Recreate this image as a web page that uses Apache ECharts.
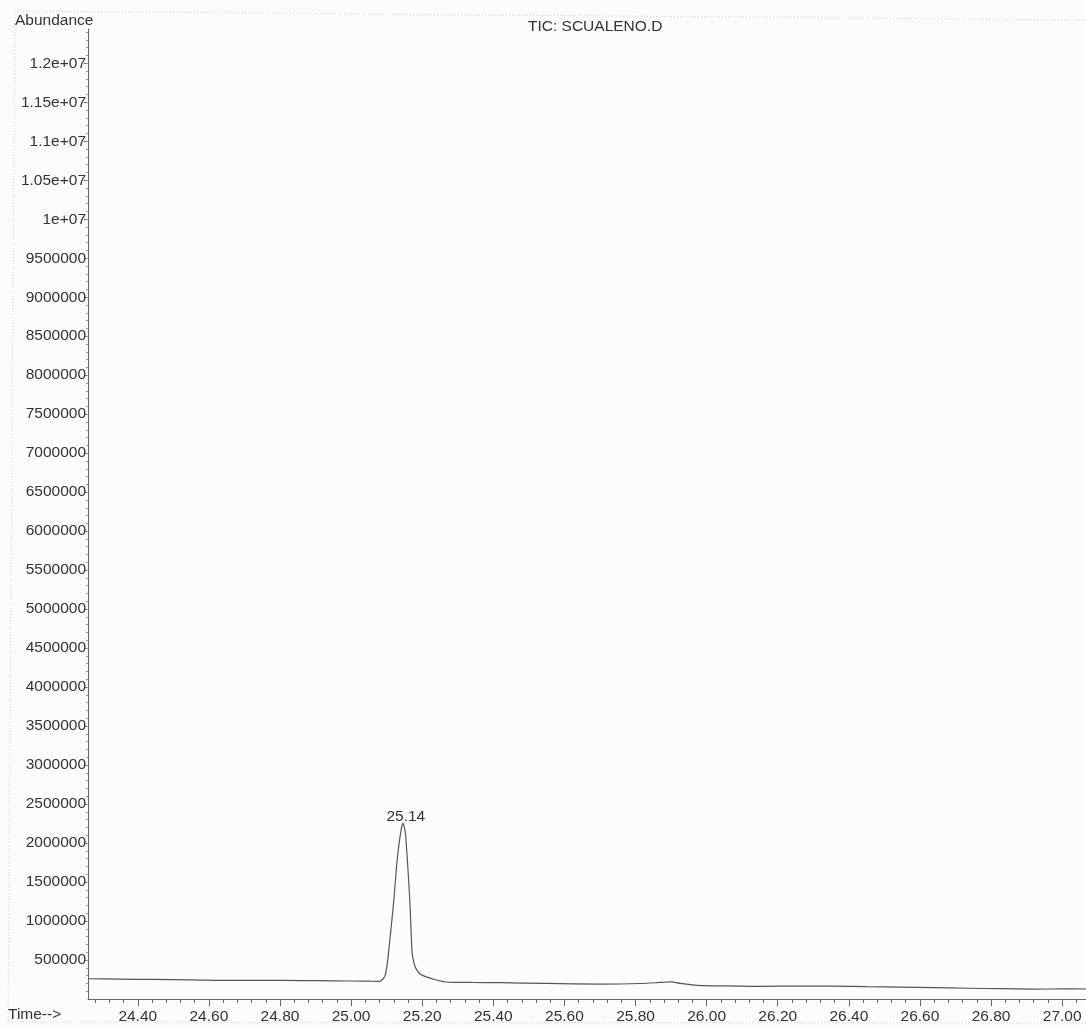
<!DOCTYPE html>
<html>
<head>
<meta charset="utf-8">
<title>TIC: SCUALENO.D</title>
<script src="https://cdn.jsdelivr.net/npm/echarts@6/dist/echarts.min.js"></script>
<style>
  html, body { margin: 0; padding: 0; background: #fcfcfc; }
  #chart { width: 1086px; height: 1030px; }
</style>
</head>
<body>
<div id="chart"></div>
<script>
// retention time (min) and abundance
var timeMin = [
  24.262, 24.35, 24.436, 24.55, 24.669, 24.76, 24.858, 24.95, 25.046, 25.077,
  25.083, 25.092, 25.0968, 25.103, 25.1108, 25.1201, 25.1277, 25.134, 25.139, 25.1425,
  25.1454, 25.149, 25.153, 25.1595, 25.1651, 25.169, 25.1719, 25.1765, 25.1812, 25.1952,
  25.2326, 25.274, 25.34, 25.42, 25.55, 25.70, 25.814, 25.871, 25.899, 25.927,
  25.983, 26.06, 26.152, 26.25, 26.357, 26.45, 26.546, 26.64, 26.734, 26.83,
  26.92, 27.0, 27.07
];
var abundance = [
  260000, 255000, 251000, 246000, 238000, 240000, 236000, 233000, 229000, 226000,
  232000, 270000, 320000, 495000, 837000, 1264000, 1692000, 1960000, 2119000, 2215000,
  2255000, 2215000, 2119000, 1692000, 1264000, 837000, 580000, 470000, 402000, 317000,
  253000, 215000, 212000, 209000, 200000, 192000, 199000, 212000, 219000, 200000,
  171000, 168000, 162000, 166000, 164000, 158000, 152000, 145000, 138000, 132000,
  127000, 129000, 128000
];
var peakTime = 25.1454;
var peakValue = 2255000;
var peakLabel = '25.14';

var xTickValues = [24.4, 24.6, 24.8, 25.0, 25.2, 25.4, 25.6, 25.8, 26.0, 26.2, 26.4, 26.6, 26.8, 27.0];
var xTickLabels = ['24.40', '24.60', '24.80', '25.00', '25.20', '25.40', '25.60', '25.80', '26.00', '26.20', '26.40', '26.60', '26.80', '27.00'];
var yTickValues = [500000, 1000000, 1500000, 2000000, 2500000, 3000000, 3500000, 4000000, 4500000, 5000000,
  5500000, 6000000, 6500000, 7000000, 7500000, 8000000, 8500000, 9000000, 9500000, 10000000,
  10500000, 11000000, 11500000, 12000000];
var yTickLabels = ['500000', '1000000', '1500000', '2000000', '2500000', '3000000', '3500000', '4000000', '4500000', '5000000',
  '5500000', '6000000', '6500000', '7000000', '7500000', '8000000', '8500000', '9000000', '9500000', '1e+07',
  '1.05e+07', '1.1e+07', '1.15e+07', '1.2e+07'];

var xMin = 24.26, xMax = 27.067;
var yMin = 0, yMax = 12440000;

// minor tick positions
var xMinor = [];
for (var t = 24.28; t < xMax; t += 0.04) xMinor.push(+t.toFixed(2));
var yMinor = [];
for (var v = 100000; v < yMax; v += 100000) yMinor.push(v);

var seriesData = timeMin.map(function (t, i) { return [t, abundance[i]]; });

var chart = echarts.init(document.getElementById('chart'));
var font = 'Liberation Sans, Arial, sans-serif';
var axisColor = '#666';

chart.setOption({
  backgroundColor: '#fcfcfc',
  animation: false,
  grid: { left: 88, right: 0, top: 29, bottom: 31 },
  xAxis: [{
    type: 'value', min: xMin, max: xMax,
    axisLine: { show: true, lineStyle: { color: axisColor, width: 1 } },
    axisTick: { show: true, length: 7, lineStyle: { color: axisColor }, customValues: xTickValues },
    axisLabel: {
      color: '#333', fontSize: 15.5, fontFamily: font, margin: 10,
      customValues: xTickValues,
      formatter: function (val) { return xTickLabels[xTickValues.indexOf(+val.toFixed(2))]; }
    },
    splitLine: { show: false }
  }, {
    type: 'value', min: xMin, max: xMax, position: 'bottom',
    axisLine: { show: false },
    axisTick: { show: true, length: 4, lineStyle: { color: axisColor }, customValues: xMinor },
    axisLabel: { show: false },
    splitLine: { show: false }
  }],
  yAxis: [{
    type: 'value', min: yMin, max: yMax,
    axisLine: { show: true, lineStyle: { color: axisColor, width: 1 } },
    axisTick: { show: true, length: 4, lineStyle: { color: axisColor }, customValues: yTickValues },
    axisLabel: {
      color: '#333', fontSize: 15.5, fontFamily: font, margin: 2,
      customValues: yTickValues,
      formatter: function (val) { return yTickLabels[yTickValues.indexOf(Math.round(val))]; }
    },
    splitLine: { show: false }
  }, {
    type: 'value', min: yMin, max: yMax, position: 'left',
    axisLine: { show: false },
    axisTick: { show: true, length: 2, lineStyle: { color: '#999' }, customValues: yMinor },
    axisLabel: { show: false },
    splitLine: { show: false }
  }],
  series: [{
    type: 'line',
    data: seriesData,
    showSymbol: false,
    symbol: 'none',
    smooth: 0.25,
    lineStyle: { color: '#555', width: 1.2 },
    z: 5,
    markPoint: {
      symbol: 'circle', symbolSize: 1,
      itemStyle: { color: 'rgba(0,0,0,0)' },
      label: { show: true, position: 'top', distance: 1, offset: [3, 3], formatter: peakLabel,
               color: '#333', fontSize: 15.5, fontFamily: font },
      data: [{ coord: [peakTime, peakValue] }]
    }
  }],
  graphic: [
    { type: 'polyline', silent: true,
      shape: { points: [[1086, 20], [15, 11], [8, 1022], [1086, 1023]] },
      style: { stroke: '#cfcfcf', fill: null, lineWidth: 1, lineDash: [1, 2] } },
    { type: 'text', left: 15, top: 13,
      style: { text: 'Abundance', fill: '#333', font: '15.5px ' + font } },
    { type: 'text', left: 528, top: 19,
      style: { text: 'TIC: SCUALENO.D', fill: '#333', font: '15.5px ' + font } },
    { type: 'text', left: 8, top: 1007,
      style: { text: 'Time-->', fill: '#333', font: '15.5px ' + font } }
  ]
});
</script>
</body>
</html>
